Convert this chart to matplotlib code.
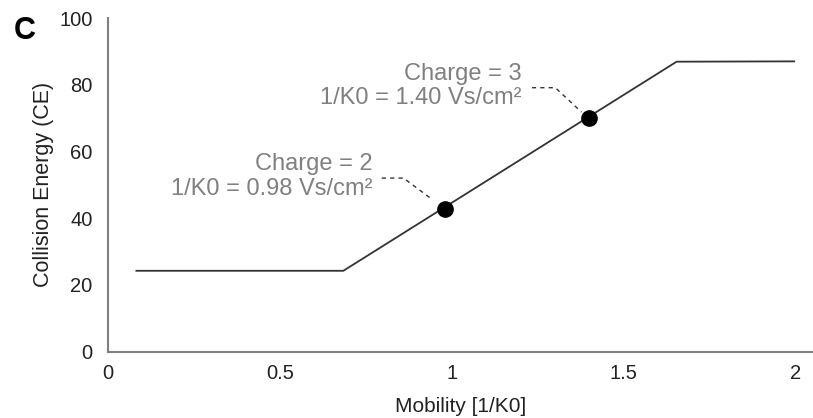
import matplotlib
matplotlib.use("Agg")
import matplotlib.pyplot as plt

plt.rcParams['font.family'] = ['Liberation Sans', 'DejaVu Sans']

# CE ramp (mobility vs collision energy)
ramp_x = [0.08, 0.685, 1.655, 2.0]
ramp_y = [24.2, 24.2, 86.9, 87.0]

# highlighted precursors
pt_x = [0.98, 1.40]
pt_y = [42.6, 70.0]
pt_labels = ["Charge = 2\n1/K0 = 0.98 Vs/cm²", "Charge = 3\n1/K0 = 1.40 Vs/cm²"]

x_ticks = [0, 0.5, 1, 1.5, 2]
x_ticklabels = ["0", "0.5", "1", "1.5", "2"]
y_ticks = [0, 20, 40, 60, 80, 100]

fig = plt.figure(figsize=(8.13, 4.18), dpi=100)
ax = fig.add_axes([108/813, (418-351.5)/418, (813-108)/813, (351.5-18)/418])

ax.plot(ramp_x, ramp_y, color='#333333', lw=1.3, solid_capstyle='butt')
ax.plot(pt_x, pt_y, 'o', color='black', ms=11)

# leader lines and labels
text_pos = [(0.77, 52.4), (1.204, 79.6)]
leaders = [([0.797, 0.86, 0.945], [52.0, 52.0, 45.5]),
           ([1.234, 1.302, 1.378], [79.1, 79.1, 71.8])]
for (tx, ty), (lx, ly), lab in zip(text_pos, leaders, pt_labels):
    ax.plot(lx, ly, ls=(0, (3, 3)), color='#333333', lw=1.0)
    ax.text(tx, ty, lab, ha='right', va='center', color='#808080',
            fontsize=17, linespacing=1.15)

ax.set_xlim(0, 2.052)
ax.set_ylim(0, 100)
ax.set_xticks(x_ticks)
ax.set_xticklabels(x_ticklabels)
ax.set_yticks(y_ticks)
ax.tick_params(length=0, labelsize=14.5, colors='#222222')
ax.tick_params(axis='x', pad=9)
ax.tick_params(axis='y', pad=11)
for s in ['top', 'right']:
    ax.spines[s].set_visible(False)
for s in ['left', 'bottom']:
    ax.spines[s].set_color('#808080')
    ax.spines[s].set_linewidth(1.5)

ax.set_xlabel("Mobility [1/K0]", fontsize=15, color='#222222', labelpad=10)
ax.set_ylabel("Collision Energy (CE)", fontsize=15.5, color='#222222')
ax.yaxis.set_label_coords(-0.0773, 0.5)

fig.text(24.5/813, 1 - 31/418, "C", fontsize=22, fontweight='bold', ha='center', va='center')

fig.savefig("out.png", dpi=100)
